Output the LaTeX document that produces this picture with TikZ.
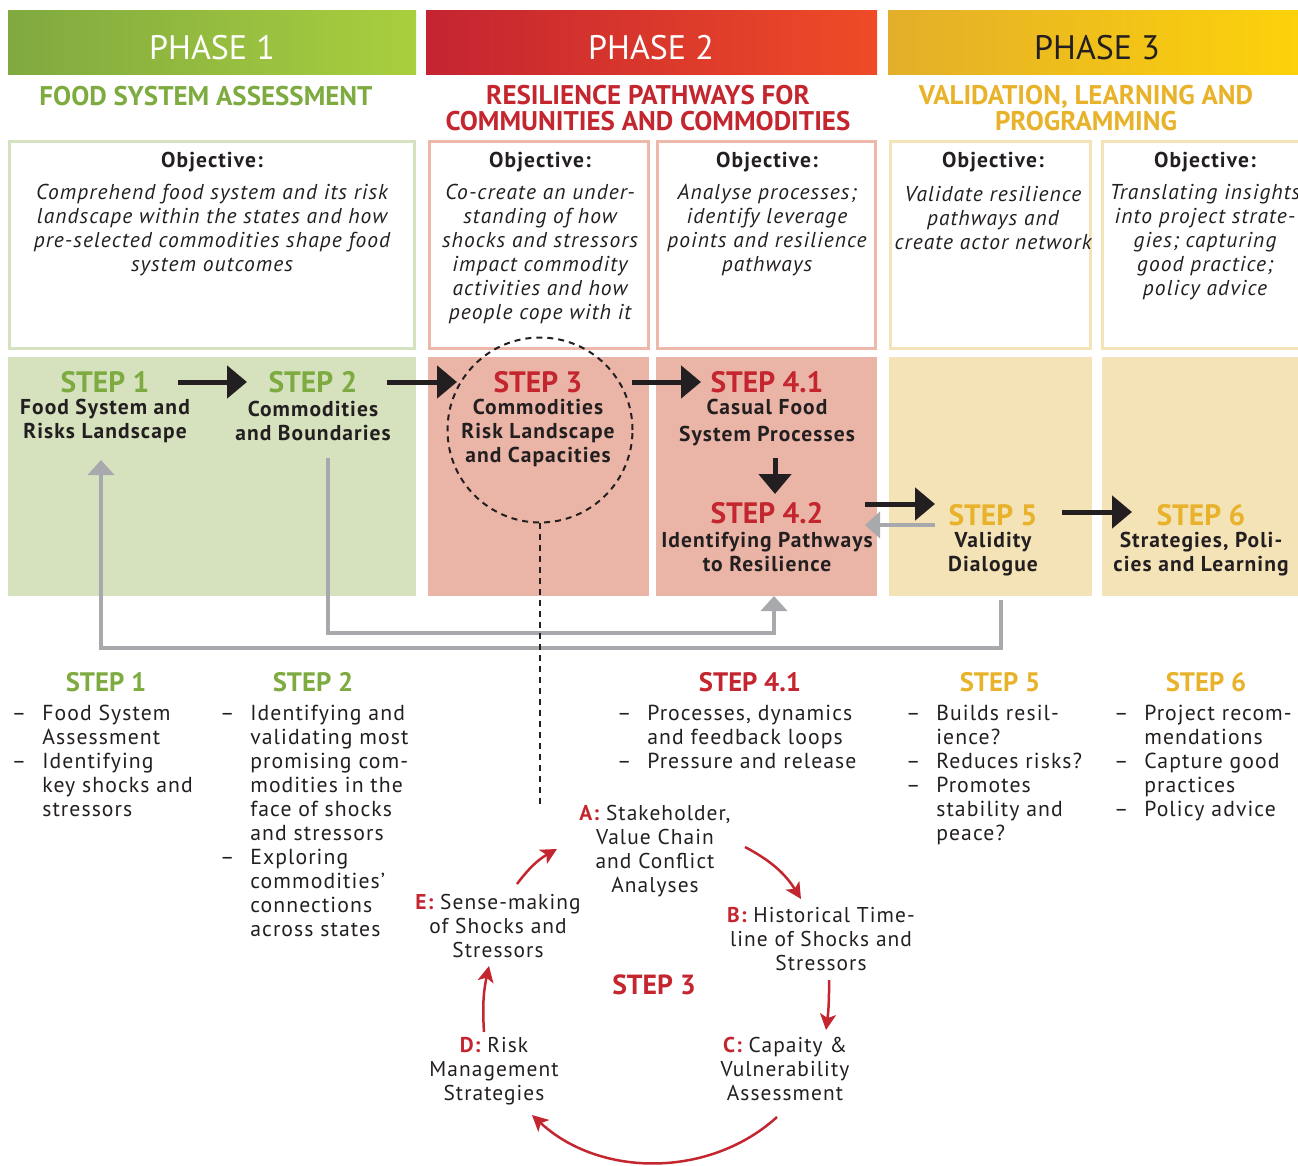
\documentclass[tikz,border=0pt]{standalone}
\usepackage{fontspec}
\setmainfont{PT Sans}[LetterSpace=5]
\newfontfamily\hf{PT Sans}
\usetikzlibrary{arrows.meta,calc}
\definecolor{gA}{HTML}{7DAB3F}
\definecolor{rA}{HTML}{C4262F}
\definecolor{yA}{HTML}{E8B22A}
\definecolor{gFill}{HTML}{D6E1BE}
\definecolor{pFill}{HTML}{EAB5A7}
\definecolor{yFill}{HTML}{F5E3B8}
\definecolor{gLine}{HTML}{D5E2C0}
\definecolor{pLine}{HTML}{EDB8A9}
\definecolor{yLine}{HTML}{F5E3B8}
\definecolor{grayA}{HTML}{A7A9AC}
\definecolor{ink}{HTML}{231F20}
\definecolor{txt}{HTML}{231F20}
\definecolor{g1L}{HTML}{80A940}
\definecolor{g1R}{HTML}{A9CF3E}
\definecolor{r1L}{HTML}{C42431}
\definecolor{r1R}{HTML}{EF4B27}
\definecolor{y1L}{HTML}{E3AE2A}
\definecolor{y1R}{HTML}{FDD20A}
\tikzset{
  every node/.style={inner sep=0pt, outer sep=0pt, text=txt},
  bar/.style={minimum height=64pt},
  phasetxt/.style={font=\hf\fontsize{34}{40}\selectfont},
  subtxt/.style={font=\hf\bfseries\fontsize{27}{26}\selectfont, align=center},
  objbox/.style={draw, line width=3pt, minimum height=207pt},
  objtitle/.style={font=\bfseries\fontsize{21.5}{24}\selectfont},
  objbody/.style={font=\itshape\fontsize{21.5}{24}\selectfont, align=center},
  panel/.style={minimum height=239pt},
  steplab/.style={font=\hf\bfseries\fontsize{29.5}{30}\selectfont},
  steptxt/.style={font=\bfseries\fontsize{21.5}{24}\selectfont, align=center},
  listhead/.style={font=\hf\bfseries\fontsize{26.7}{28}\selectfont},
  listtxt/.style={font=\fontsize{21.7}{24}\selectfont, anchor=north west},
  cyctxt/.style={font=\fontsize{21.4}{24}\selectfont, align=center},
  blk/.style={draw=ink, line width=5pt, -{Triangle[length=20pt,width=32pt]}},
  gryarr/.style={draw=grayA, line width=4pt, -{Triangle[length=15pt,width=26pt]}},
  redarr/.style={draw=rA, line width=2.5pt, -{Stealth[length=16pt,width=16pt,inset=4pt]}},
  dsh/.style={draw=ink, line width=2pt, dash pattern=on 6pt off 5pt},
}
\newcommand{\lst}[1]{\begin{tabular}{@{}l@{\hspace{16pt}}l@{}}#1\end{tabular}}
\newcommand{\rl}[1]{{\color{rA}\bfseries #1}}
\begin{document}
\begin{tikzpicture}[x=1pt,y=-1pt]
\useasboundingbox (0,0) rectangle (1298,1166);
% ---------- phase bars
\node[bar, left color=g1L, right color=g1R, minimum width=408pt] (ph1) at (212,43) {};
\node[bar, left color=r1L, right color=r1R, minimum width=451pt] (ph2) at (651.5,43) {};
\node[bar, left color=y1L, right color=y1R, minimum width=410pt] (ph3) at (1093,43) {};
\node[phasetxt, text=white] (ph1t) at (212,48) {PHASE 1};
\node[phasetxt, text=white] (ph2t) at (651,48) {PHASE 2};
\node[phasetxt] (ph3t) at (1097,48) {PHASE 3};
% ---------- subtitles
\node[subtxt, text=gA] (sub1) at (206,96) {FOOD SYSTEM ASSESSMENT};
\node[subtxt, text=rA] (sub2) at (648,108) {RESILIENCE PATHWAYS FOR\\COMMUNITIES AND COMMODITIES};
\node[subtxt, text=yA] (sub3) at (1086,108) {VALIDATION, LEARNING AND\\PROGRAMMING};
% ---------- objective boxes
\node[objbox, draw=gLine, minimum width=405pt] (o1) at (212,245) {};
\node[objbox, draw=pLine, minimum width=219pt] (o2) at (539,245) {};
\node[objbox, draw=pLine, minimum width=218pt] (o3) at (766.5,245) {};
\node[objbox, draw=yLine, minimum width=200pt] (o4) at (990.5,245) {};
\node[objbox, draw=yLine, minimum width=200pt] (o5) at (1202,245) {};
\node[objtitle] (o1h) at (212,162) {Objective:};
\node[objtitle] (o2h) at (540,162) {Objective:};
\node[objtitle] (o3h) at (767,162) {Objective:};
\node[objtitle] (o4h) at (993,162) {Objective:};
\node[objtitle] (o5h) at (1205,162) {Objective:};
\node[objbody] (o1b) at (212,230) {Comprehend food system and its risk\\landscape within the states and how\\pre-selected commodities shape food\\system outcomes};
\node[objbody] (o2b) at (540,254) {Co-create an under-\\standing of how\\shocks and stressors\\impact commodity\\activities and how\\people cope with it};
\node[objbody] (o3b) at (767,230) {Analyse processes;\\identify leverage\\points and resilience\\pathways};
\node[objbody] (o4b) at (993,218) {Validate resilience\\pathways and\\create actor network};
\node[objbody] (o5b) at (1205,242) {Translating insights\\into project strate-\\gies; capturing\\good practice;\\policy advice};
% ---------- step panels
\node[panel, fill=gFill, minimum width=408pt] (p1) at (212,476.5) {};
\node[panel, fill=pFill, minimum width=221pt] (p2) at (538.5,476.5) {};
\node[panel, fill=pFill, minimum width=221pt] (p3) at (766.5,476.5) {};
\node[panel, fill=yFill, minimum width=203pt] (p4) at (990.5,476.5) {};
\node[panel, fill=yFill, minimum width=196pt] (p5) at (1200,476.5) {};
% dashed circle
\node[circle, dsh, minimum size=185pt] (c3) at (540,430) {};
% step labels
\node[steplab, text=gA] (s1) at (105,382) {STEP 1};
\node[steplab, text=gA] (s2) at (313,382) {STEP 2};
\node[steplab, text=rA] (s3) at (538,382) {STEP 3};
\node[steplab, text=rA] (s41) at (767,382) {STEP 4.1};
\node[steplab, text=rA] (s42) at (767,513) {STEP 4.2};
\node[steplab, text=yA] (s5) at (993,515) {STEP 5};
\node[steplab, text=yA] (s6) at (1201,515) {STEP 6};
\node[steptxt] (s1t) at (105,421) {Food System and\\Risks Landscape};
\node[steptxt] (s2t) at (313,421) {Commodities\\and Boundaries};
\node[steptxt] (s3t) at (538,433) {Commodities\\Risk Landscape\\and Capacities};
\node[steptxt] (s41t) at (767,422.5) {Casual Food\\[3pt]System Processes};
\node[steptxt] (s42t) at (767,552) {Identifying Pathways\\to Resilience};
\node[steptxt] (s5t) at (993,554) {Validity\\Dialogue};
\node[steptxt] (s6t) at (1201,554) {Strategies, Poli-\\cies and Learning};
% black arrows
\draw[blk, shorten <=73pt, shorten >=66pt] (s1.center) -- (s2.center);
\draw[blk, shorten <=74pt, shorten >=81pt] (s2.center) -- (s3.center);
\draw[blk, shorten <=94pt, shorten >=66pt] (s3.center) -- (s41.center);
\draw[blk, shorten <=76pt, shorten >=19pt] ([xshift=8pt]s41.center) -- ([xshift=8pt]s42.center);
\draw[blk, shorten <=98pt, shorten >=58pt] ([yshift=9pt]s42.center) -- ([yshift=11pt]s5.center);
\draw[gryarr, shorten <=58pt, shorten >=98pt] ([yshift=-10pt]s5.center) -- ([yshift=-12pt]s42.center);
\draw[blk, shorten <=69pt, shorten >=69pt] ([yshift=3pt]s5.center) -- ([yshift=3pt]s6.center);
% gray feedback connectors
\draw[gryarr] ([xshift=15pt,yshift=-37pt]s2t.center) -- ++(0,175) -| ([xshift=7.5pt]p3.south);
\draw[gryarr] ([xshift=10.5pt,yshift=-4pt]p4.south) -- ++(0,48) -| ([xshift=-4pt,yshift=-39pt]s1t.center);
% dashed line to cycle
\coordinate (dend) at (540,805);
\draw[dsh] (c3.south) -- (dend);
% ---------- lists
\node[listhead, text=gA] (l1h) at (106,682) {STEP 1};
\node[listhead, text=gA] (l2h) at (313,682) {STEP 2};
\node[listhead, text=rA] (l4h) at (750,682) {STEP 4.1};
\node[listhead, text=yA] (l5h) at (1000,682) {STEP 5};
\node[listhead, text=yA] (l6h) at (1206,682) {STEP 6};
\node[listtxt] (l1) at (12,704) {\lst{--&Food System\\&Assessment\\--&Identifying\\&key shocks and\\&stressors}};
\node[listtxt] (l2) at (220,704) {\lst{--&Identifying and\\&validating most\\&promising com-\\&modities in the\\&face of shocks\\&and stressors\\--&Exploring\\&commodities'\\&connections\\&across states}};
\node[listtxt] (l4) at (617,704) {\lst{--&Processes, dynamics\\&and feedback loops\\--&Pressure and release}};
\node[listtxt] (l5) at (906,704) {\lst{--&Builds resil-\\&ience?\\--&Reduces risks?\\--&Promotes\\&stability and\\&peace?}};
\node[listtxt] (l6) at (1114,704) {\lst{--&Project recom-\\&mendations\\--&Capture good\\&practices\\--&Policy advice}};
% ---------- cycle
\node[cyctxt] (cA) at (655,851) {\rl{A:} Stakeholder,\\Value Chain\\and Conflict\\Analyses};
\node[cyctxt] (cB) at (821,939) {\rl{B:} Historical Time-\\line of Shocks and\\Stressors};
\node[cyctxt] (cC) at (785,1069) {\rl{C:} Capaity \&\\Vulnerability\\Assessment};
\node[cyctxt] (cD) at (494,1071) {\rl{D:} Risk\\Management\\Strategies};
\node[cyctxt] (cE) at (498,926) {\rl{E:} Sense-making\\of Shocks and\\Stressors};
\node[text=rA, font=\hf\bfseries\fontsize{27.7}{28}\selectfont] (cS) at (654,985) {STEP 3};
\coordinate (eA1) at (517,884); \coordinate (eA2) at (557,849);
\coordinate (aB1) at (745,847); \coordinate (aB2) at (801,899);
\coordinate (bC1) at (829,980); \coordinate (bC2) at (826,1030);
\coordinate (cD1) at (777,1117); \coordinate (cD2) at (532,1115);
\coordinate (dE1) at (484,1032); \coordinate (dE2) at (489,966);
\draw[redarr] (eA1) to[bend left=12] (eA2);
\draw[redarr] (aB1) to[bend left=15] (aB2);
\draw[redarr] (bC1) to[bend left=4] (bC2);
\draw[redarr] (cD1) .. controls (710,1178) and (600,1178) .. (cD2);
\draw[redarr] (dE1) to[bend left=8] (dE2);
\end{tikzpicture}
\end{document}
